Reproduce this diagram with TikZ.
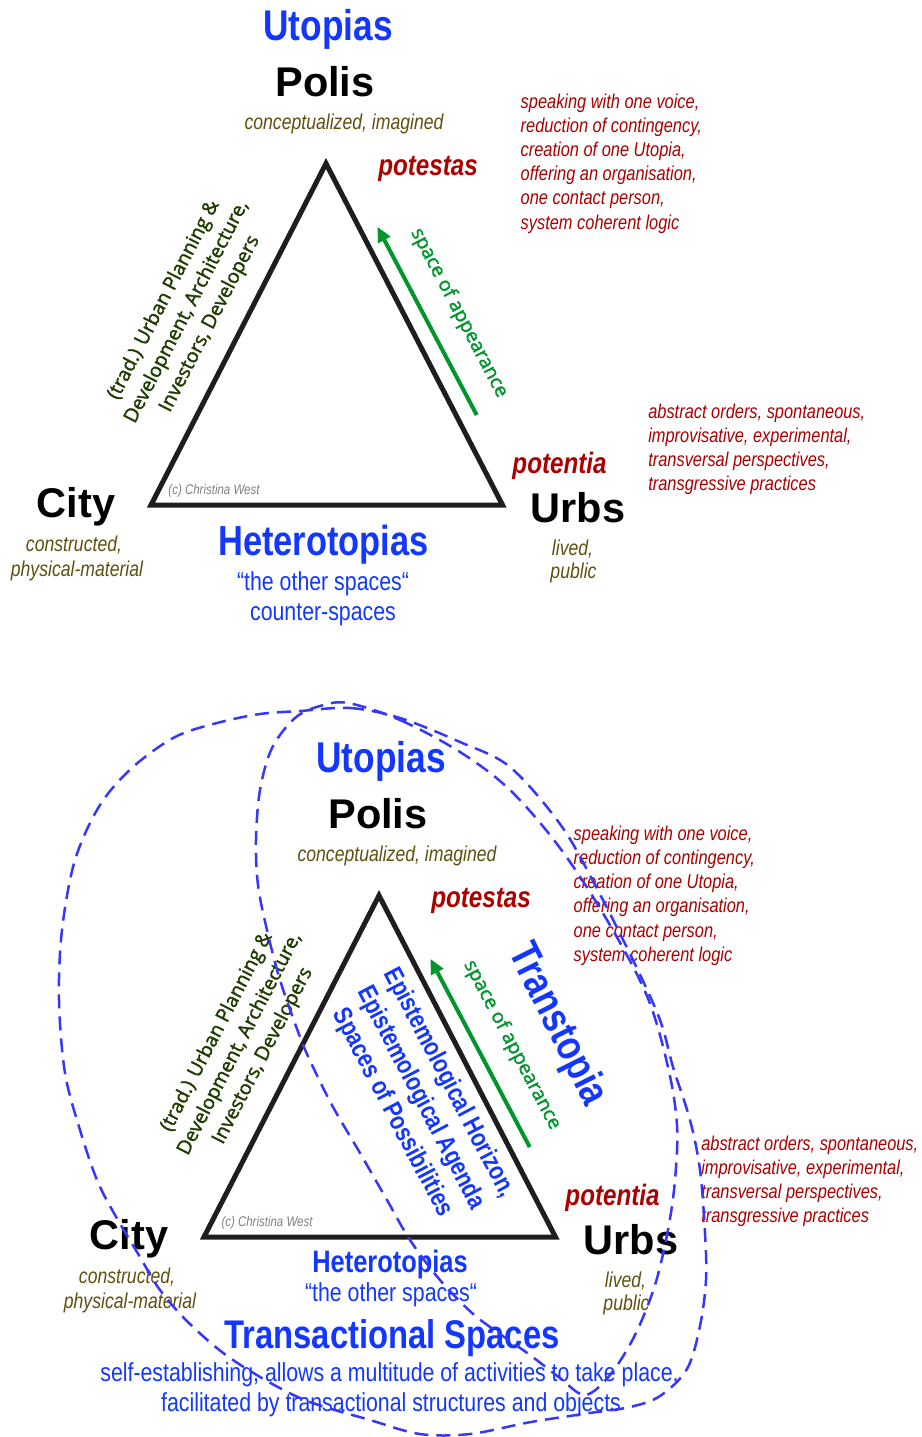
\documentclass[tikz,border=0pt]{standalone}
\usepackage{fontspec}
\setmainfont{Liberation Sans}
\newfontfamily\nar[FakeStretch=0.82]{Liberation Sans}
\newfontfamily\osans[FakeBold=1.6]{Open Sans}
\usetikzlibrary{arrows.meta}
\definecolor{cblue}{RGB}{20,55,255}
\definecolor{cred}{RGB}{170,0,0}
\definecolor{colive}{RGB}{95,80,15}
\definecolor{cgreen}{RGB}{0,150,45}
\definecolor{cdgreen}{RGB}{30,60,0}
\definecolor{cgray}{RGB}{128,128,128}
\definecolor{cdash}{RGB}{55,55,250}
\definecolor{ctri}{RGB}{30,30,30}
\tikzset{
  every node/.style={inner sep=0pt, outer sep=0pt},
  bluehead/.style={font=\nar\bfseries\fontsize{43}{48}\selectfont, text=cblue, anchor=base},
  placename/.style={font=\bfseries\fontsize{41.5}{46}\selectfont, text=black, anchor=base},
  desc/.style={font=\nar\itshape\fontsize{21.5}{25}\selectfont, text=colive, anchor=base},
  power/.style={font=\nar\bfseries\itshape\fontsize{29.5}{34}\selectfont, text=cred, anchor=base},
  redlist/.style={font=\nar\itshape\fontsize{20}{24.2}\selectfont, text=cred, align=left, anchor=north west},
  greenarrow/.style={draw=cgreen, line width=4pt, -{Triangle[length=15pt,width=13pt]}},
  soa/.style={font=\osans\fontsize{19.5}{24}\selectfont, text=cgreen},
  planblock/.style={font=\osans\fontsize{19.5}{26}\selectfont, text=cdgreen, align=center},
  copyr/.style={font=\nar\itshape\fontsize{14}{16}\selectfont, text=cgray, anchor=base},
  tri/.style={draw=ctri, line width=5pt, line join=miter},
  subblue/.style={font=\nar\fontsize{26}{31}\selectfont, text=cblue, anchor=base},
  hetsmall/.style={font=\nar\bfseries\fontsize{31}{36}\selectfont, text=cblue, anchor=base},
  transbig/.style={font=\nar\bfseries\fontsize{40}{46}\selectfont, text=cblue, anchor=base},
  transt/.style={font=\nar\bfseries\fontsize{42}{48}\selectfont, text=cblue},
  epi/.style={font=\nar\bfseries\fontsize{26}{32}\selectfont, text=cblue, align=center},
  dashcurve/.style={draw=cdash, line width=2.5pt, dash pattern=on 14pt off 8pt},
}
\newcommand\basediagram[1]{%
  \node[bluehead] (#1utop) at (328,40.7) {Utopias};
  \node[placename] (#1polis) at (325,96.7) {Polis};
  \node[desc] (#1conc) at (344,129.3) {conceptualized, imagined};
  \coordinate (#1apex) at (326,163.5);
  \coordinate (#1bl) at (151,505);
  \coordinate (#1br) at (502.5,505);
  \draw[tri] (#1apex) -- (#1br) -- (#1bl) -- cycle;
  \node[power] (#1potestas) at (428,175) {potestas};
  \node[redlist] (#1list) at (520.7,93.7) {speaking with one voice,\\reduction of contingency,\\creation of one Utopia,\\offering an organisation,\\one contact person,\\system coherent logic};
  \coordinate (#1atail) at (476.7,415);
  \coordinate (#1ahead) at (377.3,226.7);
  \draw[greenarrow] (#1atail) -- (#1ahead);
  \node[soa, rotate=-62.3] (#1soa) at (459,313) {space of appearance};
  \node[planblock, rotate=62.7] (#1plan) at (187,312) {(trad.) Urban Planning \&\\Development, Architecture,\\Investors, Developers};
  \node[copyr] (#1copy) at (214,494) {(c) Christina West};
  \node[placename] (#1city) at (76,517.3) {City};
  \node[desc] (#1cons) at (74,551.7) {constructed,};
  \node[desc] (#1phys) at (77,576.7) {physical-material};
  \node[power] (#1potentia) at (559.5,473) {potentia};
  \node[placename] (#1urbs) at (578,522.7) {Urbs};
  \node[desc] (#1lived) at (572.5,555) {lived,};
  \node[desc] (#1public) at (573.5,578) {public};
  \node[redlist] (#1list2) at (648.3,403.7) {abstract orders, spontaneous,\\improvisative, experimental,\\transversal perspectives,\\transgressive practices};
}
\begin{document}
\begin{tikzpicture}[x=1pt,y=-1pt]
\fill[white] (0,0) rectangle (921,1437);
\useasboundingbox (0,0) rectangle (921,1437);
% top diagram
\basediagram{t}
\node[bluehead, font=\nar\bfseries\fontsize{42}{48}\selectfont] (thet) at (323.5,555) {Heterotopias};
\node[subblue] (tother) at (323,590.7) {“the other spaces“};
\node[subblue] (tcounter) at (323,620.7) {counter-spaces};
% bottom diagram
\begin{scope}[shift={(53,732)}]
\basediagram{b}
\end{scope}
\node[hetsmall] (bhet) at (390,1272) {Heterotopias};
\node[subblue] (bother) at (391,1301.7) {“the other spaces“};
\node[transbig] (btrans) at (392,1348) {Transactional Spaces};
\node[subblue] (bself) at (389.5,1381.7) {self-establishing, allows a multitude of activities to take place,};
\node[subblue] (bfac) at (391,1411.7) {facilitated by transactional structures and objects};
\node[transt, rotate=-63.5] (btranstopia) at (557,1025) {Transtopia};
\node[epi, rotate=-62.3] (bepi) at (420.7,1098) {Epistemological Horizon,\\Epistemological Agenda\\Spaces of Possibilities};
% dashed loops
\draw[dashcurve] plot[smooth cycle, tension=0.55] coordinates {
 (300,711) (350,708) (400,718) (460,742) (510,767) (560,824) (593,881) (633,960)
 (660,1020) (673,1067) (690,1120) (700,1170) (705,1233) (706,1280) (700,1326)
 (687,1369) (660,1396) (630,1407) (590,1413) (531,1422) (470,1434) (420,1434)
 (370,1420) (300,1398) (233,1360) (190,1324) (160,1290) (140,1257) (115,1215)
 (97,1180) (80,1130) (65,1073) (59,1000) (62,930) (75,860) (100,805) (133,767)
 (175,737) (217,723) (260,714)};
\draw[dashcurve] plot[smooth cycle, tension=0.55] coordinates {
 (348,703) (400,720) (460,752) (510,790) (560,848) (607,920) (647,996) (668,1067)
 (677,1125) (675,1180) (668,1230) (655,1285) (635,1335) (610,1375) (585,1395)
 (560,1378) (530,1355) (500,1334) (472,1313) (440,1280) (410,1240) (387,1200)
 (360,1153) (333,1107) (313,1067) (300,1037) (280,980) (267,930) (258,885)
 (256,840) (260,790) (272,748) (295,718) (320,706)};
\end{tikzpicture}
\end{document}
